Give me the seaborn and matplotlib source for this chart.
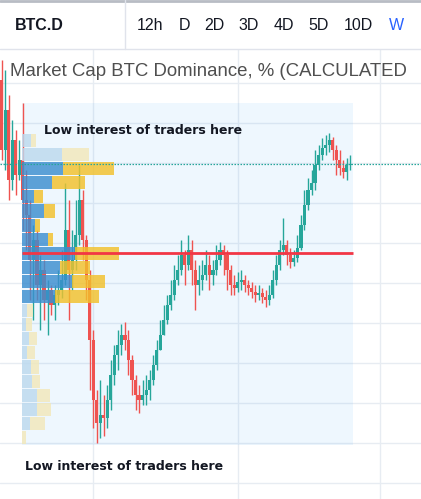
import numpy as np
import pandas as pd
import matplotlib.pyplot as plt
from matplotlib.lines import Line2D
from matplotlib.ticker import NullFormatter
import seaborn as sns

sns.set_theme(style="white")

# toolbar
symbol = "BTC.D"
intervals = ["12h", "D", "2D", "3D", "4D", "5D", "10D", "W"]
interval_x = [150, 184, 214, 249, 284, 319, 358, 396]  # px centres
title = "Market Cap BTC Dominance, % (CALCULATED"

# weekly candles (price in %)
first_open = 70.38
closes = [61.63, 66.63, 57.88, 62.88, 58.50, 60.38, 55.38, 53.50, 47.88, 50.38,
          44.75, 46.63, 42.88, 44.13, 42.25, 43.50, 44.13, 45.38, 51.63, 46.63,
          47.88, 51.00, 55.38, 50.38, 45.38, 37.88, 30.38, 27.50, 28.50, 28.13,
          30.38, 33.50, 36.00, 37.25, 38.50, 37.88, 35.38, 32.88, 31.00, 30.38,
          31.00, 31.63, 32.88, 34.75, 36.63, 38.50, 40.38, 42.25, 43.50, 45.38,
          46.63, 48.50, 47.25, 49.13, 46.63, 44.75, 45.38, 46.00, 47.25, 46.00,
          46.63, 47.88, 49.13, 48.50, 46.63, 44.75, 44.38, 45.13, 45.38, 44.75,
          44.38, 43.88, 43.50, 43.75, 43.25, 42.88, 43.50, 45.38, 47.25, 49.13,
          49.75, 48.50, 47.63, 48.13, 49.38, 52.25, 54.75, 56.63, 57.50, 59.75,
          61.00, 61.88, 62.25, 62.88, 61.63, 60.38, 59.38, 58.88, 59.75, 59.88]
highs = [72.88, 71.63, 68.50, 65.38, 64.13, 62.88, 67.50, 59.13, 55.38, 52.25,
         51.63, 48.50, 47.88, 45.38, 44.75, 44.75, 46.63, 49.13, 57.50, 55.38,
         51.63, 55.38, 59.75, 56.63, 51.00, 46.63, 39.13, 31.63, 32.88, 31.00,
         32.25, 35.38, 37.25, 39.13, 39.88, 40.13, 39.13, 36.00, 33.50, 32.25,
         32.88, 33.50, 34.13, 36.00, 37.88, 40.38, 42.25, 43.50, 45.38, 47.25,
         48.50, 50.38, 49.13, 51.00, 50.38, 47.88, 47.25, 47.88, 49.13, 48.50,
         47.88, 49.75, 50.13, 49.75, 49.13, 47.25, 46.00, 46.38, 46.63, 46.00,
         45.38, 45.13, 44.75, 44.75, 44.38, 44.13, 44.75, 46.63, 48.50, 50.38,
         53.13, 50.38, 49.38, 49.13, 51.00, 53.50, 56.63, 58.13, 59.13, 61.63,
         62.25, 63.13, 63.50, 63.75, 63.25, 62.25, 61.63, 60.38, 60.63, 61.00]
lows = [60.38, 59.13, 55.38, 56.63, 56.00, 57.88, 51.63, 49.13, 42.88, 40.38,
        42.88, 39.13, 40.38, 38.50, 41.00, 40.38, 42.25, 43.13, 44.75, 40.38,
        44.13, 46.63, 49.75, 47.88, 42.88, 31.63, 26.88, 25.00, 25.63, 25.88,
        26.88, 29.13, 32.25, 34.13, 36.00, 36.63, 33.50, 31.00, 29.13, 28.75,
        29.75, 29.75, 30.38, 32.25, 34.13, 36.63, 38.50, 39.88, 41.63, 42.88,
        44.75, 46.00, 44.75, 46.63, 44.75, 41.63, 43.50, 44.13, 45.38, 44.13,
        44.75, 46.00, 47.25, 46.00, 44.13, 43.50, 43.50, 43.88, 44.13, 43.88,
        43.50, 43.13, 42.63, 42.88, 42.50, 42.00, 42.25, 43.13, 44.75, 46.63,
        48.50, 47.25, 46.88, 47.13, 47.63, 49.13, 51.63, 54.13, 56.00, 56.63,
        59.13, 60.38, 61.00, 61.38, 60.38, 58.50, 58.50, 58.13, 57.88, 59.13]

# visible range volume profile
vp_levels = [62.86, 61.09, 59.32, 57.55, 55.77, 54.00, 52.23, 50.45, 48.68, 46.91, 45.14,
             43.36, 41.59, 39.82, 38.05, 36.27, 34.50, 32.73, 30.95, 29.18, 27.41, 25.64]
vp_up = [9, 40, 41, 30, 12, 22, 13, 26, 53, 38, 50, 33, 5, 4, 7, 5, 9, 10, 15, 15, 8, 0]
vp_down = [5, 27, 51, 33, 9, 11, 5, 5, 44, 30, 33, 44, 6, 6, 8, 8, 8, 8, 13, 14, 15, 4]
vp_value_area = [False, False, True, True, True, True, True, True, True, True, True,
                 True, False, False, False, False, False, False, False, False, False, False]
poc_price = 48.75
range_start, range_end = 5.75, 99.8     # candle index
range_top, range_bottom = 67.5, 24.75   # price

grid_prices = [20, 25, 30, 35, 40, 45, 50, 55, 60, 65, 70]
grid_times = [25.9, 67.1, 107.5]

UP, DOWN = "#26a69a", "#ef5350"

W, H = 421, 499
fig = plt.figure(figsize=(W / 100, H / 100), dpi=100)
fig.patch.set_facecolor("white")
top_bar = 49
ax = fig.add_axes([0, 0, 1, (H - top_bar) / H])
ax.set_facecolor("white")
for s in ax.spines.values():
    s.set_visible(False)
ax.set_xlim(-0.5, 119.1)
ax.set_ylim(18.0, 74.25)
ax.set_yticks(grid_prices)
ax.set_xticks(grid_times)
ax.xaxis.set_major_formatter(NullFormatter())
ax.yaxis.set_major_formatter(NullFormatter())
ax.tick_params(left=False, bottom=False, labelleft=False, labelbottom=False)
ax.grid(True, color="#e7ecf2", linewidth=1.0)
ax.set_axisbelow(True)
ax.set_xlabel("")
ax.set_ylabel("")

# shaded range
ax.fill_between([range_start, range_end], range_bottom, range_top,
                color="#2196f3", alpha=0.075, linewidth=0, zorder=1)

# candles
df = pd.DataFrame({"close": closes, "high": highs, "low": lows})
df["open"] = [first_open] + closes[:-1]
df["t"] = np.arange(len(df))
colors = [UP if c >= o else DOWN for o, c in zip(df["open"], df["close"])]
ax.vlines(df["t"], df["low"], df["high"], colors=colors, linewidth=1.0, zorder=2)
ax.bar(df["t"], (df["close"] - df["open"]).abs().clip(lower=0.15),
       bottom=df[["open", "close"]].min(axis=1), width=0.88, color=colors,
       linewidth=0, zorder=2)

# volume profile on its own x scale
vp = ax.inset_axes([22 / W, 0, (353 - 22) / W, 1], sharey=ax)
vp.set_xlim(0, 331)
vp.patch.set_alpha(0)
vp_df = pd.DataFrame({"level": vp_levels, "up": vp_up, "down": vp_down, "va": vp_value_area})
sns.barplot(data=vp_df, x="up", y="level", hue="va", orient="h", native_scale=True,
            palette={True: "#2391e7", False: "#b4daf6"}, dodge=False, legend=False,
            width=0.93, alpha=0.82, linewidth=0, ax=vp)
vp.barh(vp_df["level"], vp_df["down"], left=vp_df["up"], height=1.65,
        color=["#f2c12b" if v else "#f2e8ba" for v in vp_value_area],
        alpha=0.82, linewidth=0)
vp.set_ylim(18.0, 74.25)
vp.set_xticks([])
vp.set_xlabel("")
vp.set_ylabel("")
vp.axis("off")
vp.set_zorder(3)

# POC and last price lines
ax.hlines(poc_price, range_start, range_end, color="#f23645", linewidth=2, zorder=6)
ax.axhline(closes[-1], color=UP, linewidth=0.9, linestyle=(0, (1.2, 1.2)), zorder=6)

# annotations
fig.text(44 / W, 1 - 130 / H, "Low interest of traders here", fontsize=9,
         fontweight="bold", color="#131722", va="center", ha="left", zorder=10)
fig.text(25 / W, 1 - 466 / H, "Low interest of traders here", fontsize=9,
         fontweight="bold", color="#131722", va="center", ha="left", zorder=10)

# title
fig.text(10 / W, 1 - 72 / H, title, fontsize=13.4, family="Liberation Sans",
         color="#4f4f4f", va="center", ha="left", zorder=10)

# toolbar
fig.add_artist(Line2D([0, 1], [1 - 0.8 / H, 1 - 0.8 / H], color="#b8bcc4", linewidth=2))
fig.add_artist(Line2D([0, 1], [1 - top_bar / H, 1 - top_bar / H], color="#e0e3eb", linewidth=1))
fig.add_artist(Line2D([125 / W, 125 / W], [1 - top_bar / H, 1], color="#e0e3eb", linewidth=1))
fig.text(39 / W, 1 - 26 / H, symbol, fontsize=11.5, family="Liberation Sans",
         fontweight="bold", color="#131722", ha="center", va="center")
for lab, xp in zip(intervals, interval_x):
    fig.text(xp / W, 1 - 26 / H, lab, fontsize=11.5, family="Liberation Sans",
             color="#2962ff" if lab == "W" else "#131722", ha="center", va="center")

fig.savefig("out.png", dpi=100)
